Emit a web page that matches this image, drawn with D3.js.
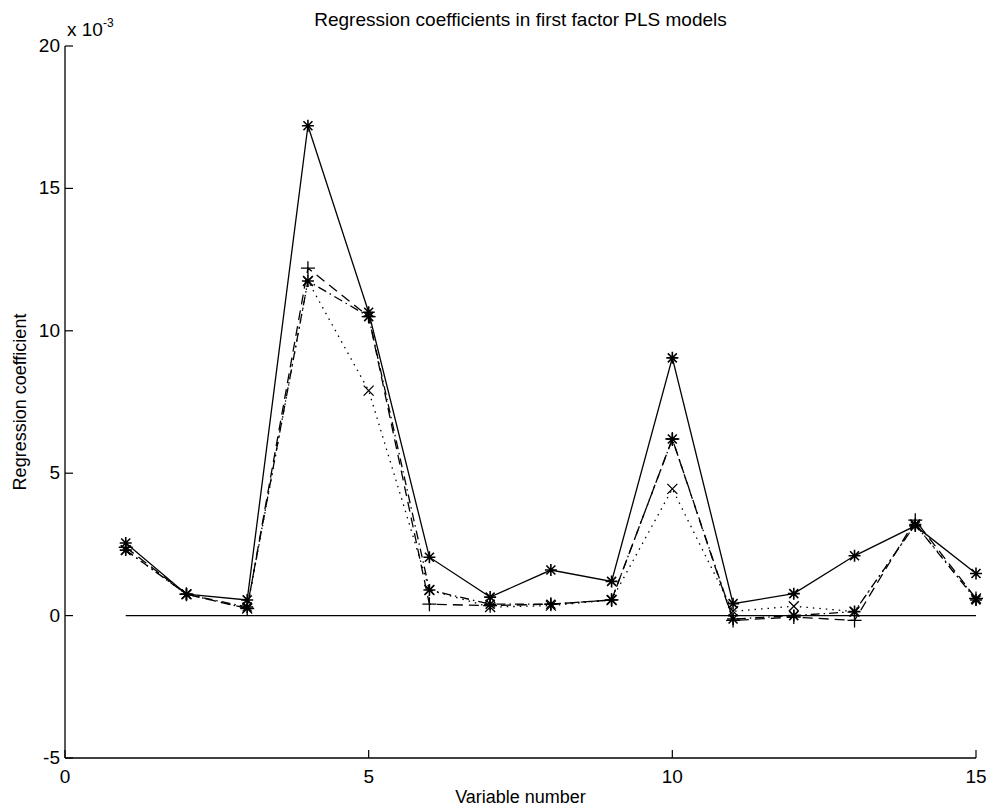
<!DOCTYPE html>
<html>
<head>
<meta charset="utf-8">
<script src="https://cdn.jsdelivr.net/npm/d3@7"></script>
<style>
  body { margin: 0; background: #fff; }
  text { font-family: "Liberation Sans", Arial, Helvetica, sans-serif; fill: #000; }
</style>
</head>
<body>
<div id="chart"></div>
<script>
// variable numbers
var variables = [1, 2, 3, 4, 5, 6, 7, 8, 9, 10, 11, 12, 13, 14, 15];
// regression coefficients, in units of 1e-3
var solidStar = [2.55, 0.75, 0.55, 17.2, 10.65, 2.05, 0.65, 1.6, 1.2, 9.05, 0.42, 0.77, 2.1, 3.15, 1.48];
var dashedPlus = [2.4, 0.75, 0.25, 12.2, 10.5, 0.4, 0.35, 0.4, 0.55, 6.2, -0.17, -0.05, -0.17, 3.35, 0.6];
var dottedX = [2.3, 0.75, 0.25, 11.75, 7.9, 0.9, 0.3, 0.35, 0.55, 4.45, 0.15, 0.33, 0.14, 3.2, 0.6];
var dashDotStar = [2.3, 0.75, 0.3, 11.75, 10.5, 0.9, 0.4, 0.4, 0.55, 6.2, -0.12, 0.0, 0.14, 3.2, 0.55];
var xTicks = [0, 5, 10, 15];
var yTicks = [-5, 0, 5, 10, 15, 20];

var width = 988, height = 807;
var margin = {left: 65, right: 12, top: 46, bottom: 49};

var svg = d3.select('#chart')
  .append('svg')
  .attr('width', width)
  .attr('height', height);

var x = d3.scaleLinear().domain([0, 15]).range([margin.left, width - margin.right]);
var y = d3.scaleLinear().domain([-5, 20]).range([height - margin.bottom, margin.top]);

// axes: only left and bottom lines, ticks pointing inward
svg.append('line')
  .attr('x1', x(0)).attr('x2', x(0))
  .attr('y1', y(-5)).attr('y2', y(20))
  .attr('stroke', '#000').attr('stroke-width', 1.3);
svg.append('line')
  .attr('x1', x(0)).attr('x2', x(15))
  .attr('y1', y(-5)).attr('y2', y(-5))
  .attr('stroke', '#000').attr('stroke-width', 1.3);

svg.selectAll('.ytick')
  .data(yTicks)
  .enter()
  .append('line')
  .attr('x1', x(0)).attr('x2', x(0) + 8)
  .attr('y1', d => y(d)).attr('y2', d => y(d))
  .attr('stroke', '#000').attr('stroke-width', 1.2);

svg.selectAll('.ylab')
  .data(yTicks)
  .enter()
  .append('text')
  .attr('x', x(0) - 5)
  .attr('y', d => y(d) + 6)
  .attr('text-anchor', 'end')
  .style('font-size', '19px')
  .text(d => d);

svg.selectAll('.xtick')
  .data(xTicks)
  .enter()
  .append('line')
  .attr('x1', d => x(d)).attr('x2', d => x(d))
  .attr('y1', y(-5)).attr('y2', y(-5) - 8)
  .attr('stroke', '#000').attr('stroke-width', 1.2);

svg.selectAll('.xlab')
  .data(xTicks)
  .enter()
  .append('text')
  .attr('x', d => x(d))
  .attr('y', y(-5) + 25)
  .attr('text-anchor', 'middle')
  .style('font-size', '19px')
  .text(d => d);

// exponent label
var expo = svg.append('text')
  .attr('x', x(0) + 2)
  .attr('y', 36)
  .style('font-size', '19px');
expo.append('tspan').text('x 10');
expo.append('tspan').attr('dy', -9).style('font-size', '12px').text('-3');

// title and axis labels
svg.append('text')
  .attr('x', (x(0) + x(15)) / 2)
  .attr('y', 26)
  .attr('text-anchor', 'middle')
  .style('font-size', '19px')
  .text('Regression coefficients in first factor PLS models');

svg.append('text')
  .attr('x', (x(0) + x(15)) / 2)
  .attr('y', 803)
  .attr('text-anchor', 'middle')
  .style('font-size', '18px')
  .text('Variable number');

svg.append('text')
  .attr('transform', 'translate(26,' + ((y(-5) + y(20)) / 2) + ') rotate(-90)')
  .attr('text-anchor', 'middle')
  .style('font-size', '18px')
  .text('Regression coefficient');

// zero reference line
svg.append('line')
  .attr('x1', x(variables[0])).attr('x2', x(variables[variables.length - 1]))
  .attr('y1', y(0)).attr('y2', y(0))
  .attr('stroke', '#000').attr('stroke-width', 1.3);

var series = [
  {name: 'dotted', values: dottedX, dash: '1.5,5', marker: 'x'},
  {name: 'dashdot', values: dashDotStar, dash: '9,4,1.5,4', marker: 'star'},
  {name: 'dashed', values: dashedPlus, dash: '10,6', marker: 'plus'},
  {name: 'solid', values: solidStar, dash: null, marker: 'star'}
];

var line = d3.line()
  .x(d => x(d.v))
  .y(d => y(d.c));

function markerPath(type) {
  var p = d3.path();
  if (type === 'plus') {
    var s = 7;
    p.moveTo(-s, 0); p.lineTo(s, 0);
    p.moveTo(0, -s); p.lineTo(0, s);
  } else if (type === 'x') {
    var s2 = 5;
    p.moveTo(-s2, -s2); p.lineTo(s2, s2);
    p.moveTo(-s2, s2); p.lineTo(s2, -s2);
  } else {
    var r = 6, rd = 4.5;
    p.moveTo(-r, 0); p.lineTo(r, 0);
    p.moveTo(0, -r); p.lineTo(0, r);
    p.moveTo(-rd, -rd); p.lineTo(rd, rd);
    p.moveTo(-rd, rd); p.lineTo(rd, -rd);
  }
  return p.toString();
}

series.forEach(function(s) {
  var pts = variables.map((v, i) => ({v: v, c: s.values[i]}));
  svg.append('path')
    .datum(pts)
    .attr('d', line)
    .attr('fill', 'none')
    .attr('stroke', '#000')
    .attr('stroke-width', 1.3)
    .attr('stroke-dasharray', s.dash);

  svg.selectAll('.m-' + s.name)
    .data(pts)
    .enter()
    .append('path')
    .attr('transform', d => 'translate(' + x(d.v) + ',' + y(d.c) + ')')
    .attr('d', markerPath(s.marker))
    .attr('fill', 'none')
    .attr('stroke', '#000')
    .attr('stroke-width', s.marker === 'star' ? 1.6 : 1.3);
});
</script>
</body>
</html>
